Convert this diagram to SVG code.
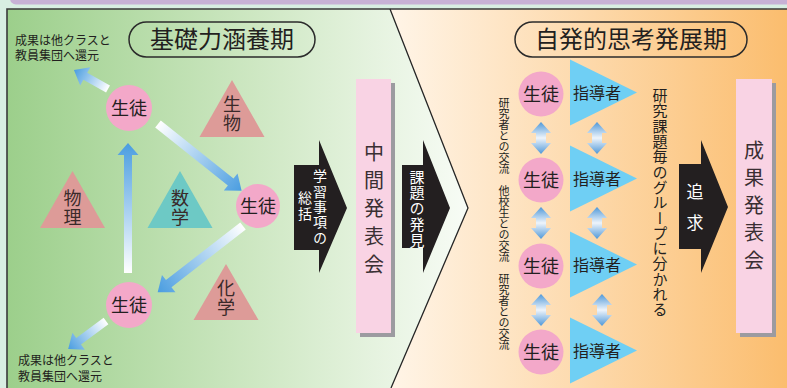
<svg xmlns="http://www.w3.org/2000/svg" width="787" height="388" viewBox="0 0 787 388">
<defs>
<linearGradient id="gLeft" gradientUnits="userSpaceOnUse" x1="7" y1="0" x2="468" y2="0">
<stop offset="0" stop-color="#9ccf8b"/>
<stop offset="0.55" stop-color="#cfe8c4"/>
<stop offset="1" stop-color="#f8fcf6"/>
</linearGradient>
<linearGradient id="gRight" gradientUnits="userSpaceOnUse" x1="395" y1="0" x2="787" y2="0">
<stop offset="0" stop-color="#fff4e6"/>
<stop offset="1" stop-color="#fbbd6e"/>
</linearGradient>
<linearGradient id="gArrow" x1="0" y1="0" x2="1" y2="0">
<stop offset="0" stop-color="#ffffff"/>
<stop offset="1" stop-color="#4a9de0"/>
</linearGradient>
<linearGradient id="gDbl" x1="0" y1="0" x2="0" y2="1">
<stop offset="0" stop-color="#4f98d8"/>
<stop offset="0.5" stop-color="#eef4fb"/>
<stop offset="1" stop-color="#4f98d8"/>
</linearGradient>
</defs>
<style>
text{font-family:"Noto Sans CJK JP","Noto Sans CJK SC",sans-serif;fill:#231f20}
.ttl{font-size:24px;text-anchor:middle}
.pill{fill:none;stroke:#2b2b2b;stroke-width:1.5}
.stu{fill:#f3a8c9}
.stu-t{font-size:18px;text-anchor:middle}
.tri{fill:#dd9b98}
.tri2{fill:#6dc9c5}
.tri-t{font-size:18px;fill:#3a2a2a;letter-spacing:1px}
.note{font-size:12px}
.blk{fill:#231f20}
.wt{fill:#ffffff}
.vt{writing-mode:vertical-rl;text-anchor:start}
.box{fill:#f9d3e4}
.shadow{fill:#9c9ba0}
.box-t{font-size:20px;fill:#3a2f33}
.guide{fill:#6fcff4}
.guide-t{font-size:16px;text-anchor:middle}
.arr{fill:url(#gArrow)}
.dbl{fill:url(#gDbl)}
</style>

<rect x="0" y="0" width="787" height="388" fill="#d8eee2"/>
<rect x="10" y="-10" width="800" height="14.5" rx="6" fill="#c7b1d5"/>

<g id="panel-left">
<polygon points="7,9 390,9 468,208 391,388 7,388" fill="url(#gLeft)"/>
</g>
<g id="panel-right">
<polygon points="390,9 787,9 787,388 391,388 468,208" fill="url(#gRight)"/>
</g>
<polyline points="7,388 7,9 787,9" fill="none" stroke="#3a3a3a" stroke-width="1.6"/>
<polyline points="390,9 468,208 391,388" fill="none" stroke="#262626" stroke-width="1.3"/>

<g id="title-left">
<rect class="pill" x="129" y="22" width="186" height="35" rx="17.5"/>
<text class="ttl" x="222" y="48">基礎力涵養期</text>
</g>
<g id="title-right">
<rect class="pill" x="515" y="22" width="232" height="35" rx="17.5"/>
<text class="ttl" x="631" y="48">自発的思考発展期</text>
</g>

<g id="note-top">
<text class="note" x="15" y="44.5">成果は他クラスと</text>
<text class="note" x="15" y="60">教員集団へ還元</text>
</g>
<g id="note-bottom">
<text class="note" x="18" y="365">成果は他クラスと</text>
<text class="note" x="18" y="381">教員集団へ還元</text>
</g>

<g id="connectors">
<path class="arr" transform="translate(108,89) rotate(209.2)" d="M0,-4 H26 V-10.5 L39,0 L26,10.5 V4 H0 Z"/>
<path class="arr" transform="translate(158,124) rotate(38.6)" d="M0,-4.5 H93 V-11 L107,0 L93,11 V4.5 H0 Z"/>
<path class="arr" transform="translate(128,273) rotate(-90)" d="M0,-4 H118 V-10.5 L130,0 L118,10.5 V4 H0 Z"/>
<path class="arr" transform="translate(243,226) rotate(142.2)" d="M0,-4.5 H94 V-11 L108,0 L94,11 V4.5 H0 Z"/>
<path class="arr" transform="translate(106,321) rotate(143.6)" d="M0,-4 H34 V-10.5 L47,0 L34,10.5 V4 H0 Z"/>
<path class="dbl" transform="translate(541,122)" d="M0,0 L10,11 L5,11 L5,21 L10,21 L0,32 L-10,21 L-5,21 L-5,11 L-10,11 Z"/>
<path class="dbl" transform="translate(541,207)" d="M0,0 L10,11 L5,11 L5,21 L10,21 L0,32 L-10,21 L-5,21 L-5,11 L-10,11 Z"/>
<path class="dbl" transform="translate(541,294)" d="M0,0 L10,11 L5,11 L5,21 L10,21 L0,32 L-10,21 L-5,21 L-5,11 L-10,11 Z"/>
<path class="dbl" transform="translate(597,122)" d="M0,0 L10,11 L5,11 L5,21 L10,21 L0,32 L-10,21 L-5,21 L-5,11 L-10,11 Z"/>
<path class="dbl" transform="translate(597,207)" d="M0,0 L10,11 L5,11 L5,21 L10,21 L0,32 L-10,21 L-5,21 L-5,11 L-10,11 Z"/>
<path class="dbl" transform="translate(602,294)" d="M0,0 L10,11 L5,11 L5,21 L10,21 L0,32 L-10,21 L-5,21 L-5,11 L-10,11 Z"/>
</g>

<g id="student-1"><circle class="stu" cx="129" cy="108" r="23"/><text class="stu-t" x="129" y="114.5">生徒</text></g>
<g id="student-2"><circle class="stu" cx="258" cy="206" r="22"/><text class="stu-t" x="258" y="212.5">生徒</text></g>
<g id="student-3"><circle class="stu" cx="129" cy="305" r="23"/><text class="stu-t" x="129" y="311.5">生徒</text></g>

<g id="subject-bio"><polygon class="tri" points="232,80 264.5,137 199.5,137"/><text class="tri-t vt" x="232" y="95.5">生物</text></g>
<g id="subject-phys"><polygon class="tri" points="72.5,171 105,228 40,228"/><text class="tri-t vt" x="72.5" y="189.5">物理</text></g>
<g id="subject-math"><polygon class="tri2" points="180,171 212.5,228 147.5,228"/><text class="tri-t vt" x="180" y="189.5">数学</text></g>
<g id="subject-chem"><polygon class="tri" points="226,264 258.5,320 193.5,320"/><text class="tri-t vt" x="226" y="279">化学</text></g>

<g id="step-summary">
<polygon class="blk" points="294,165 319,165 319,140 347,208 319,273 319,250 294,250"/>
<text class="wt vt" x="320" y="169" style="font-size:14px;letter-spacing:1.3px">学習事項の</text>
<text class="wt vt" x="305" y="191" style="font-size:14px;letter-spacing:1.5px">総括</text>
</g>

<g id="midterm-presentation">
<rect class="shadow" x="360" y="83" width="35" height="254"/>
<rect class="box" x="356" y="79" width="35" height="254"/>
<text class="box-t vt" x="374" y="142" style="letter-spacing:8px">中間発表会</text>
</g>

<g id="step-discovery">
<polygon class="blk" points="402,165 423,165 423,140 450,208 423,273 423,248 402,248"/>
<text class="wt vt" x="417" y="169.5" style="font-size:15px;letter-spacing:0.8px">課題の発見</text>
</g>

<g id="exchange-label">
<text class="vt" x="504" y="97" style="font-size:11px">研究者との交流　他校生との交流　研究者との交流</text>
</g>

<g id="group-1"><circle class="stu" cx="541" cy="94" r="22.5"/><text class="stu-t" x="541" y="100.5">生徒</text><polygon class="guide" points="570,59.5 637,92.5 570,125.5"/><text class="guide-t" x="597" y="98.5">指導者</text></g>
<g id="group-2"><circle class="stu" cx="541" cy="180" r="22.5"/><text class="stu-t" x="541" y="186.5">生徒</text><polygon class="guide" points="570,145.5 637,178.5 570,211.5"/><text class="guide-t" x="597" y="184.5">指導者</text></g>
<g id="group-3"><circle class="stu" cx="541" cy="266" r="22.5"/><text class="stu-t" x="541" y="272.5">生徒</text><polygon class="guide" points="570,231.5 637,264.5 570,297.5"/><text class="guide-t" x="597" y="270.5">指導者</text></g>
<g id="group-4"><circle class="stu" cx="541" cy="352" r="22.5"/><text class="stu-t" x="541" y="358.5">生徒</text><polygon class="guide" points="570,317.5 637,350.5 570,383.5"/><text class="guide-t" x="597" y="356.5">指導者</text></g>

<g id="groups-label">
<text class="vt" x="660" y="88" style="font-size:15px;letter-spacing:0.3px">研究課題毎のグループに分かれる</text>
</g>

<g id="step-pursuit">
<polygon class="blk" points="679,164 701,164 701,140 728,207 701,273 701,249 679,249"/>
<text class="wt vt" x="695" y="183.5" style="font-size:17px;letter-spacing:14px">追求</text>
</g>

<g id="final-presentation">
<rect class="shadow" x="740" y="83" width="36" height="254"/>
<rect class="box" x="736" y="79" width="36" height="254"/>
<text class="box-t vt" x="754" y="140" style="letter-spacing:7.5px">成果発表会</text>
</g>
</svg>
